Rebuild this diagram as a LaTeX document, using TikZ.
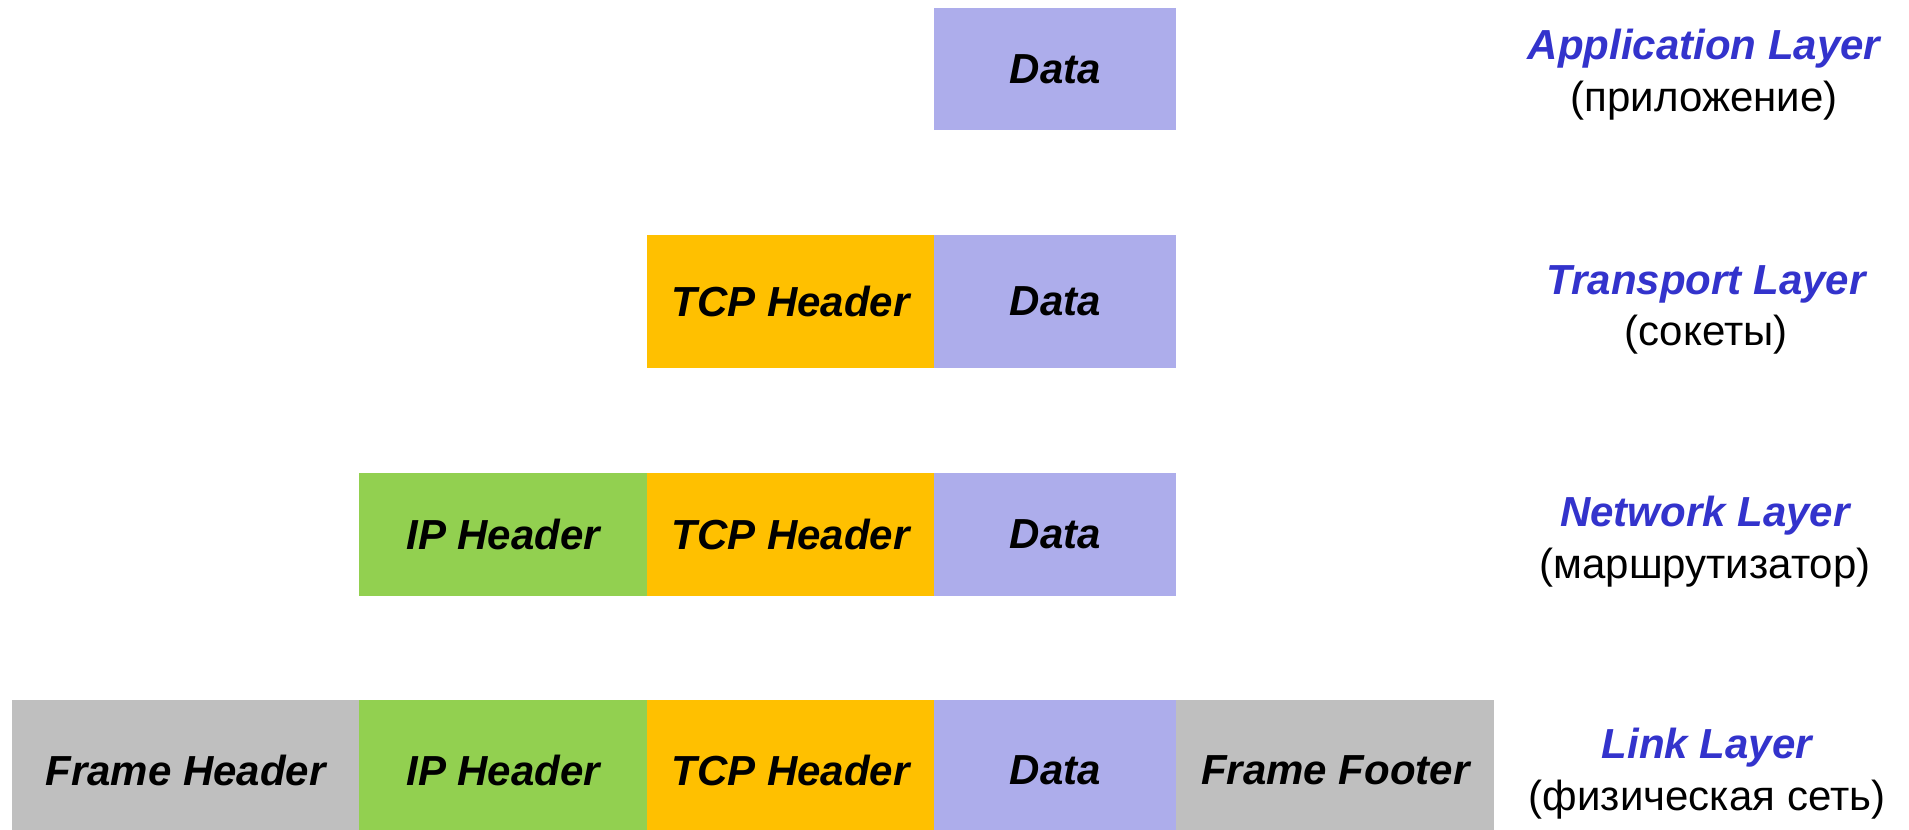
\documentclass[tikz,border=0pt]{standalone}
\usepackage{fontspec}
\setmainfont{Liberation Sans}
\definecolor{datac}{HTML}{ADADEB}
\definecolor{tcpc}{HTML}{FFC000}
\definecolor{ipc}{HTML}{92D050}
\definecolor{framec}{HTML}{BFBFBF}
\definecolor{layerc}{HTML}{3333CC}
\tikzset{
  cell/.style={rectangle, inner sep=0pt, anchor=north west, text=black,
    font=\fontsize{42}{48}\selectfont\bfseries\itshape},
  layername/.style={anchor=base, text=layerc, inner sep=0pt,
    font=\fontsize{42}{50}\selectfont\bfseries\itshape},
  layersub/.style={anchor=base, text=black, inner sep=0pt,
    font=\fontsize{42}{50}\selectfont},
}
\begin{document}
\begin{tikzpicture}[x=1pt,y=-1pt]
\useasboundingbox (0,0) rectangle (1909,830);
% row 1
\node[cell, fill=datac, minimum width=242pt, minimum height=122pt] (d1) at (934,8) {Data};
% row 2
\node[cell, fill=tcpc, minimum width=287pt, minimum height=133pt] (t2) at (647,235) {TCP Header};
\node[cell, fill=datac, minimum width=242pt, minimum height=133pt] (d2) at (934,235) {Data};
% row 3
\node[cell, fill=ipc, minimum width=288pt, minimum height=123pt] (i3) at (359,473) {IP Header};
\node[cell, fill=tcpc, minimum width=287pt, minimum height=123pt] (t3) at (647,473) {TCP Header};
\node[cell, fill=datac, minimum width=242pt, minimum height=123pt] (d3) at (934,473) {Data};
% row 4
\node[cell, fill=framec, minimum width=347pt, minimum height=140pt] (f4) at (12,700) {Frame Header};
\node[cell, fill=ipc, minimum width=288pt, minimum height=140pt] (i4) at (359,700) {IP Header};
\node[cell, fill=tcpc, minimum width=287pt, minimum height=140pt] (t4) at (647,700) {TCP Header};
\node[cell, fill=datac, minimum width=242pt, minimum height=140pt] (d4) at (934,700) {Data};
\node[cell, fill=framec, minimum width=318pt, minimum height=140pt] (ff4) at (1176,700) {Frame Footer};
% layer labels
\node[layername] (l1) at (1704,59) {Application Layer};
\node[layersub] (s1) at (1704,111) {(приложение)};
\node[layername] (l2) at (1706,294) {Transport Layer};
\node[layersub] (s2) at (1706,345) {(сокеты)};
\node[layername] (l3) at (1705,526) {Network Layer};
\node[layersub] (s3) at (1705,578) {(маршрутизатор)};
\node[layername] (l4) at (1707,758) {Link Layer};
\node[layersub] (s4) at (1707,810) {(физическая сеть)};
\end{tikzpicture}
\end{document}
